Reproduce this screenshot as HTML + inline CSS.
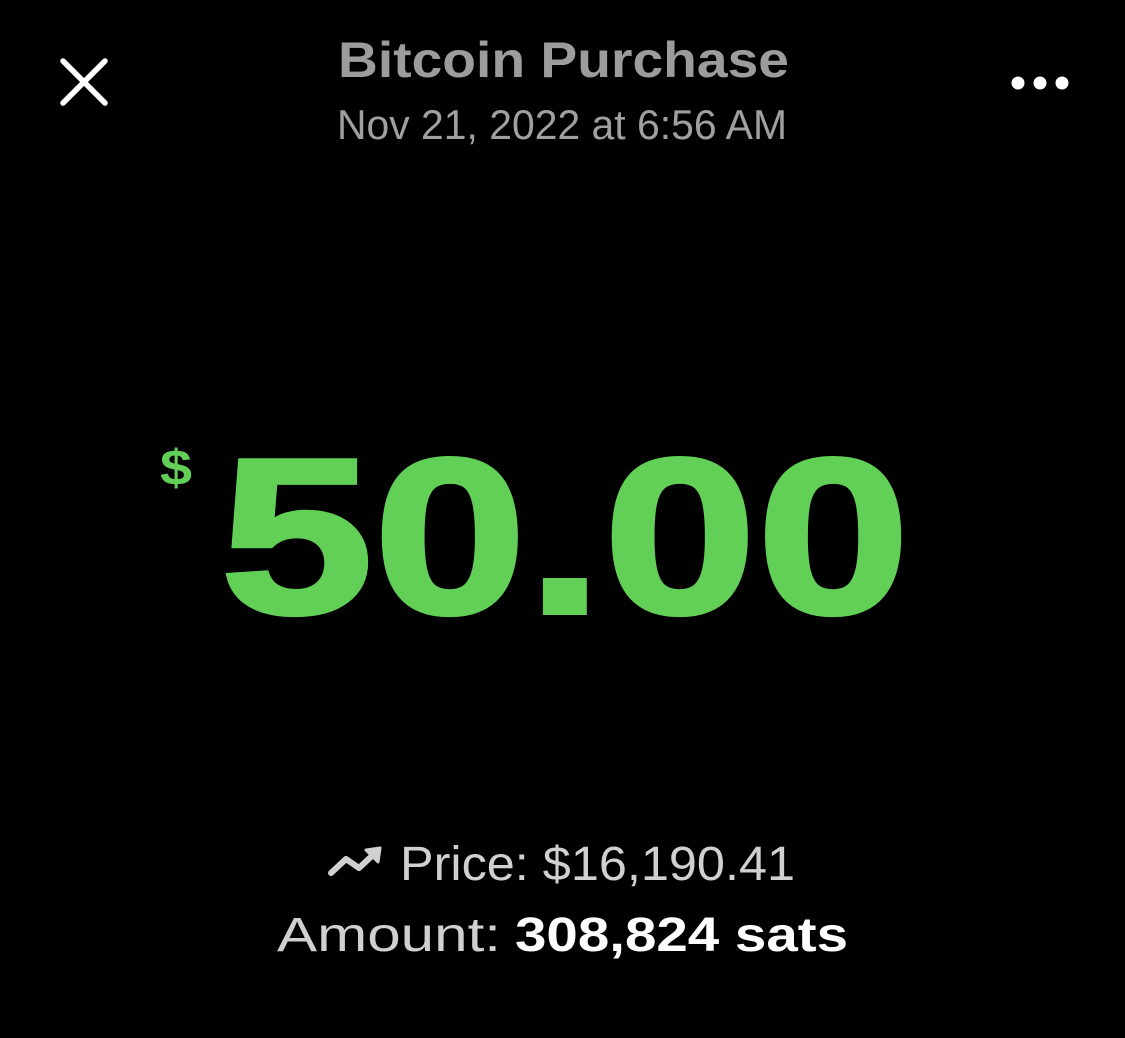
<!DOCTYPE html>
<html><head><meta charset="utf-8"><style>
html,body{margin:0;padding:0;background:#000;}
svg{display:block;}
text{font-family:"Liberation Sans",sans-serif;}
</style></head>
<body>
<svg width="1125" height="1038" viewBox="0 0 1125 1038">
<rect width="1125" height="1038" fill="#000"/>
<g stroke="#fff" stroke-width="5.5" stroke-linecap="round">
<line x1="63" y1="61" x2="105" y2="103"/><line x1="105" y1="61" x2="63" y2="103"/>
</g>
<g fill="#fff">
<circle cx="1018" cy="83" r="6.5"/><circle cx="1040" cy="83" r="6.5"/><circle cx="1062" cy="83" r="6.5"/>
</g>
<text x="338" y="77" font-size="50" font-weight="bold" fill="#9c9c9c" textLength="451" lengthAdjust="spacingAndGlyphs">Bitcoin Purchase</text>
<text x="337" y="139" font-size="42" fill="#a0a0a0" textLength="450" lengthAdjust="spacingAndGlyphs">Nov 21, 2022 at 6:56 AM</text>
<text x="160" y="485" font-size="50" font-weight="bold" fill="#62cf57" textLength="32" lengthAdjust="spacingAndGlyphs">$</text>
<text x="220" y="613" font-size="222" font-weight="bold" fill="#62cf57" stroke="#62cf57" stroke-width="4" textLength="690" lengthAdjust="spacingAndGlyphs">50.00</text>
<g stroke="#d0d0d0" stroke-width="6" fill="none" stroke-linejoin="round" stroke-linecap="round">
<polyline points="331,873 346,859 359,868 374,854"/>
<polygon points="380,848 366,850 378,862" fill="#d0d0d0" stroke-width="3"/>
</g>
<text x="400" y="880" font-size="48" fill="#d0d0d0" textLength="395" lengthAdjust="spacingAndGlyphs">Price: $16,190.41</text>
<text x="277" y="951" font-size="48" fill="#d0d0d0" textLength="224" lengthAdjust="spacingAndGlyphs">Amount:</text>
<text x="515" y="951" font-size="48" font-weight="bold" fill="#fff" textLength="333" lengthAdjust="spacingAndGlyphs">308,824 sats</text>
</svg>
</body></html>
